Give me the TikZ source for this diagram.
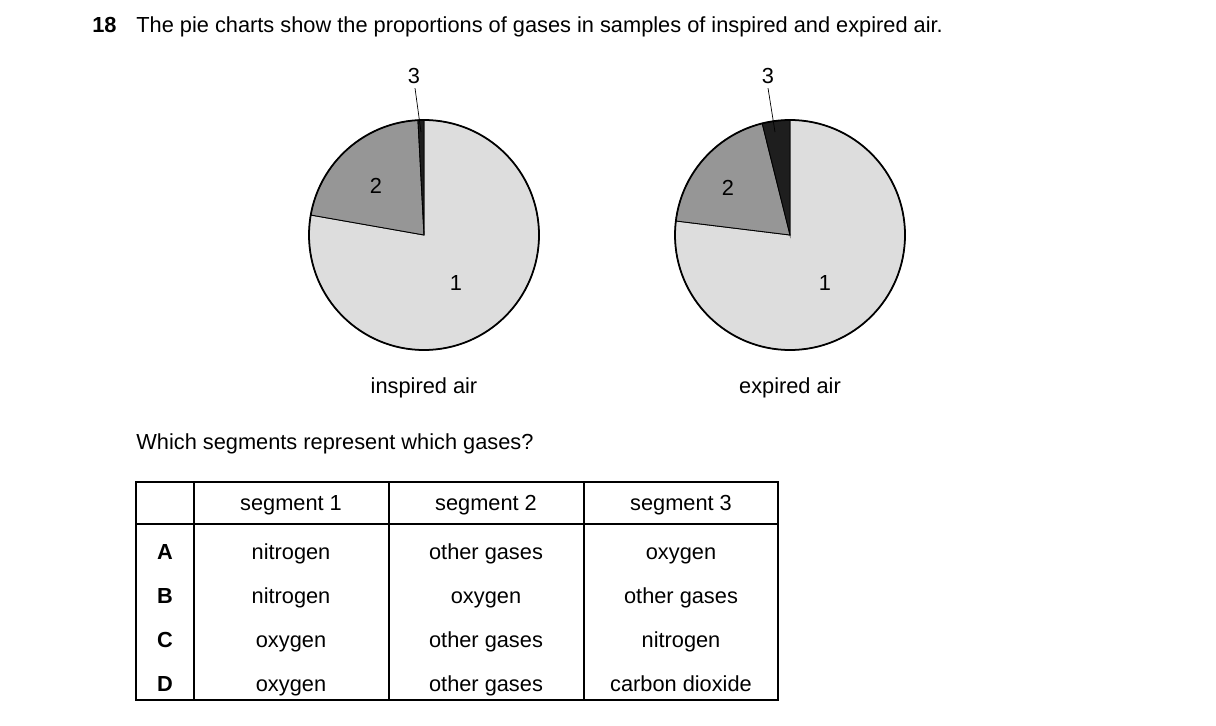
\documentclass[tikz,border=0pt]{standalone}
\usepackage{fontspec}
\setmainfont{Liberation Sans}
\definecolor{segA}{RGB}{221,221,221}
\definecolor{segB}{RGB}{150,150,150}
\definecolor{segC}{RGB}{30,30,30}
\usetikzlibrary{positioning}
\begin{document}
\fontsize{12.4pt}{14pt}\selectfont
\begin{tikzpicture}[x=0.02cm,y=-0.02cm,
  every node/.style={inner sep=0pt},
  wedge/.style={draw=black,line width=0.5pt},
  rim/.style={draw=black,line width=1pt},
  cell/.style={anchor=base}]
\useasboundingbox (0,0) rectangle (1216,726);
% question
\node[anchor=base west] (num) at (92,33) {\textbf{18}};
\node[anchor=base west] (title) at (136,33) {The pie charts show the proportions of gases in samples of inspired and expired air.};
% inspired air
\coordinate (c1) at (424,235);
\draw[wedge,fill=segA] (c1) -- ++(0,-115) arc[start angle=90,end angle=-190,x radius=115,y radius=-115] -- cycle;
\draw[wedge,fill=segB] (c1) -- ++(170:115 and -115) arc[start angle=170,end angle=93,x radius=115,y radius=-115] -- cycle;
\draw[wedge,fill=segC] (c1) -- ++(93:115 and -115) arc[start angle=93,end angle=90,x radius=115,y radius=-115] -- cycle;
\draw[rim] (c1) circle[radius=115];
\node (i2) at (376,186) {2};
\node (i1) at (456,283) {1};
\node (i3) at (414,76) {3};
\coordinate (i3p) at (421,132);
\draw (i3.south) ++(1,4) -- (i3p);
\node (ilab) at (424,388) {inspired air};
% expired air
\coordinate (c2) at (790,235);
\draw[wedge,fill=segA] (c2) -- ++(0,-115) arc[start angle=90,end angle=-187,x radius=115,y radius=-115] -- cycle;
\draw[wedge,fill=segB] (c2) -- ++(173:115 and -115) arc[start angle=173,end angle=104,x radius=115,y radius=-115] -- cycle;
\draw[wedge,fill=segC] (c2) -- ++(104:115 and -115) arc[start angle=104,end angle=90,x radius=115,y radius=-115] -- cycle;
\draw[rim] (c2) circle[radius=115];
\node (e2) at (728,188) {2};
\node (e1) at (825,283) {1};
\node (e3) at (768,76) {3};
\coordinate (e3p) at (775,132);
\draw (e3.south) ++(0,4) -- (e3p);
\node (elab) at (790,388) {expired air};
% question and table
\node[anchor=base west] (ask) at (136,449) {Which segments represent which gases?};
\draw[line width=0.8pt] (136,482) rectangle (778,700);
\draw[line width=0.8pt] (136,524) -- (778,524);
\foreach \x in {194,389,584} \draw[line width=0.8pt] (\x,482) -- (\x,700);
\node[cell] (h1) at (291,510) {segment 1};
\node[cell] (h2) at (486,510) {segment 2};
\node[cell] (h3) at (681,510) {segment 3};
\foreach \k/\y/\a/\b/\c in {A/559/nitrogen/other gases/oxygen,
  B/603/nitrogen/oxygen/other gases,
  C/647/oxygen/other gases/nitrogen,
  D/691/oxygen/other gases/carbon dioxide}{
  \node[cell] (k\k) at (165,\y) {\textbf{\k}};
  \node[cell] (a\k) at (291,\y) {\a};
  \node[cell] (b\k) at (486,\y) {\b};
  \node[cell] (c\k) at (681,\y) {\c};
}
\end{tikzpicture}
\end{document}
